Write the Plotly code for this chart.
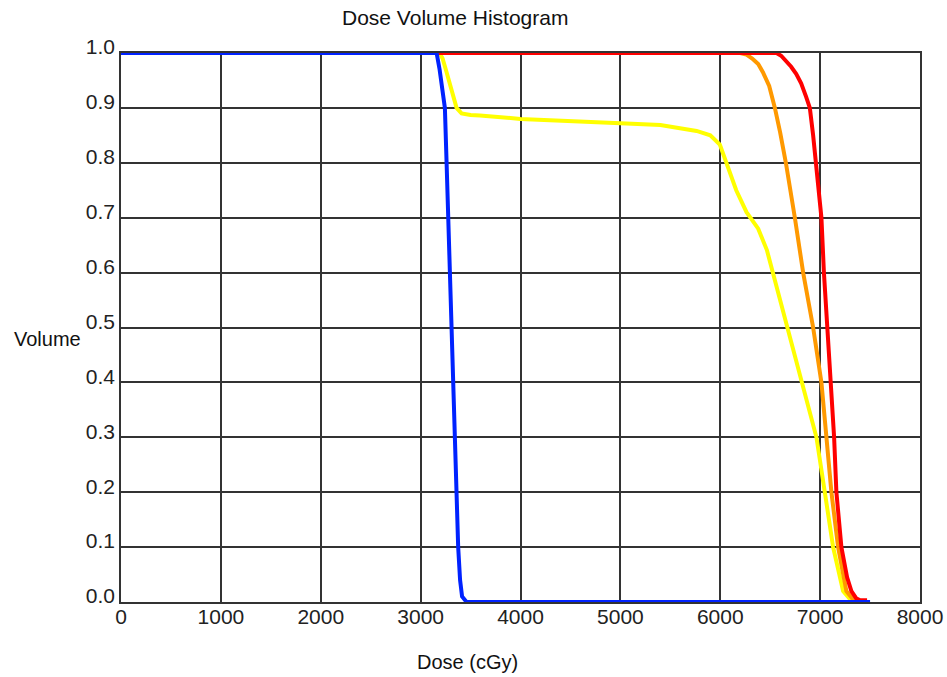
import plotly.graph_objects as go

# Dose (cGy) and Volume values
blue_dose = [0, 3160, 3190, 3220, 3243, 3260, 3276, 3293, 3307, 3326, 3343, 3355, 3376, 3395, 3415, 3460, 7500]
blue_vol = [1.0, 1.0, 0.97, 0.93, 0.9, 0.8, 0.7, 0.6, 0.5, 0.4, 0.3, 0.2, 0.1, 0.04, 0.01, 0.0, 0.0]

yellow_dose = [3190, 3220, 3260, 3310, 3360, 3410, 3500, 3594, 4000, 5000, 5400, 5763, 5900, 5996, 6063, 6160, 6263, 6380,
               6467, 6527, 6663, 6813, 6963, 7047, 7130, 7230, 7300, 7380]
yellow_vol = [1.0, 0.99, 0.965, 0.93, 0.9, 0.89, 0.887, 0.886, 0.88, 0.872, 0.869, 0.858, 0.85, 0.833, 0.8, 0.75, 0.71, 0.68,
              0.641, 0.6, 0.5, 0.4, 0.3, 0.2, 0.1, 0.02, 0.005, 0.0]

orange_dose = [6026, 6200, 6263, 6320, 6380, 6427, 6490, 6547, 6600, 6657, 6747, 6830, 6930, 7013, 7063, 7113, 7180, 7263, 7350]
orange_vol = [1.0, 1.0, 0.997, 0.99, 0.98, 0.965, 0.94, 0.9, 0.855, 0.8, 0.7, 0.6, 0.5, 0.4, 0.3, 0.2, 0.1, 0.02, 0.0]

red_dose = [3160, 6563, 6610, 6660, 6710, 6760, 6810, 6860, 6897, 6930, 6957, 7013, 7038, 7073, 7113, 7140, 7163, 7213, 7270,
            7313, 7360, 7400, 7470]
red_vol = [1.0, 1.0, 0.995, 0.985, 0.975, 0.962, 0.945, 0.92, 0.9, 0.85, 0.8, 0.7, 0.6, 0.5, 0.4, 0.3, 0.2, 0.1, 0.045,
           0.02, 0.007, 0.003, 0.003]

x_ticks = [0, 1000, 2000, 3000, 4000, 5000, 6000, 7000, 8000]
y_ticks = [0.0, 0.1, 0.2, 0.3, 0.4, 0.5, 0.6, 0.7, 0.8, 0.9, 1.0]

series = [
    (yellow_dose, yellow_vol, "#ffff00"),
    (orange_dose, orange_vol, "#ff9900"),
    (red_dose, red_vol, "#ff0000"),
    (blue_dose, blue_vol, "#0022ff"),
]

fig = go.Figure()
for xs, ys, col in series:
    fig.add_trace(go.Scatter(x=xs, y=ys, mode="lines", line=dict(color=col, width=4),
                             showlegend=False, hoverinfo="skip", cliponaxis=False))

tick_font = dict(family="Liberation Sans, Arial, sans-serif", size=21, color="#222")
label_font = dict(family="Liberation Sans, Arial, sans-serif", size=20, color="#111")

fig.update_layout(
    width=947, height=677,
    margin=dict(l=121, r=27, t=53, b=75, autoexpand=False),
    paper_bgcolor="white", plot_bgcolor="white",
    xaxis=dict(range=[0, 8000], tickvals=x_ticks, ticktext=[str(v) for v in x_ticks],
               showgrid=True, gridcolor="#333", gridwidth=1.5, zeroline=False,
               showline=True, linecolor="#333", linewidth=1.5, mirror=True, automargin=False,
               ticks="", tickfont=tick_font, ticklabelstandoff=-5),
    yaxis=dict(range=[0, 1.0], tickvals=y_ticks, ticktext=[f"{v:.1f}" for v in y_ticks],
               showgrid=True, gridcolor="#333", gridwidth=1.5, zeroline=False,
               showline=True, linecolor="#333", linewidth=1.5, mirror=True, automargin=False,
               ticks="", tickfont=tick_font, ticklabelstandoff=0, ticklabelshift=-6),
    annotations=[
        dict(text="Dose Volume Histogram", xref="paper", yref="paper", x=0.418, y=1.064,
             showarrow=False, font=dict(family="Liberation Sans, Arial, sans-serif", size=21, color="#111"),
             xanchor="center", yanchor="middle"),
        dict(text="Volume", xref="paper", yref="paper", x=-0.0926, y=0.479,
             showarrow=False, font=label_font, xanchor="center", yanchor="middle"),
        dict(text="Dose (cGy)", xref="paper", yref="paper", x=0.434, y=-0.109,
             showarrow=False, font=label_font, xanchor="center", yanchor="middle"),
    ],
)

fig.write_html("out.html", config={"displayModeBar": False},
               post_script="document.body.style.margin='0';document.body.style.padding='0';")
